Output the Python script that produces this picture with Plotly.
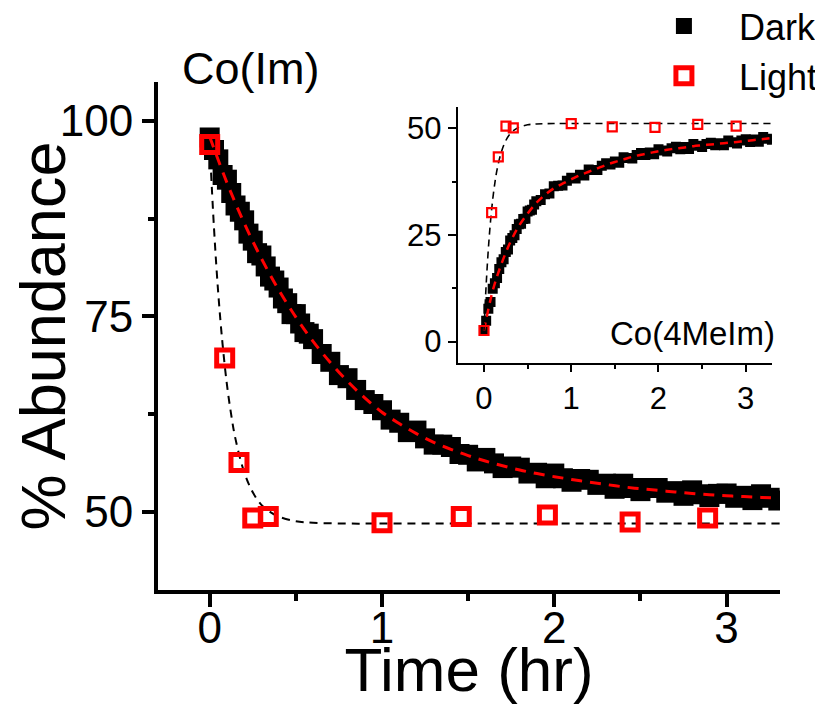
import plotly.graph_objects as go

# ---------------- Main panel: Co(Im) ----------------
dark_time = [0.0, 0.025, 0.05, 0.075, 0.1, 0.125, 0.15, 0.175, 0.2, 0.225, 0.25, 0.275, 0.3,
             0.325, 0.35, 0.375, 0.4, 0.425, 0.45, 0.475, 0.5, 0.525, 0.55, 0.575, 0.6,
             0.65, 0.7, 0.75, 0.8, 0.85, 0.9, 0.95, 1.0, 1.05, 1.1, 1.15, 1.2, 1.25, 1.3,
             1.35, 1.4, 1.45, 1.5, 1.55, 1.6, 1.65, 1.7, 1.75, 1.8, 1.85, 1.9, 1.95, 2.0,
             2.05, 2.1, 2.15, 2.2, 2.25, 2.3, 2.35, 2.4, 2.45, 2.5, 2.55, 2.6, 2.65, 2.7,
             2.75, 2.8, 2.85, 2.9, 2.95, 3.0, 3.05, 3.1, 3.15, 3.2, 3.25, 3.3]
dark_main = [97.9, 96.3, 95.1, 93.1, 92.5, 90.8, 89.2, 88.4, 87.3, 85.6, 84.7, 83.1, 82.8,
             81.4, 80.1, 79.6, 78.7, 77.3, 76.7, 75.3, 75.3, 74.1, 73.0, 72.8, 72.1,
             70.2, 69.2, 67.5, 67.1, 65.6, 64.3, 63.8, 63.0, 61.8, 61.4, 60.2, 60.4, 59.4, 58.6,
             58.6, 58.3, 57.4, 57.3, 56.45, 56.9, 56.2, 55.6, 55.8, 55.65, 54.9, 55.0, 54.3, 54.9,
             54.3, 53.85, 54.2, 54.1, 53.45, 53.6, 52.95, 53.6, 53.05, 52.65, 53.05, 53.05, 52.45, 52.65,
             52.05, 52.75, 52.25, 51.9, 52.3, 52.35, 51.8, 52.05, 51.5, 52.25, 51.8, 51.45]

fit_time = [0.0, 0.1, 0.2, 0.3, 0.4, 0.5, 0.6, 0.7, 0.8, 0.9, 1.0, 1.1, 1.2, 1.3, 1.4, 1.5, 1.6,
            1.7, 1.8, 1.9, 2.0, 2.1, 2.2, 2.3, 2.4, 2.5, 2.6, 2.7, 2.8, 2.9, 3.0, 3.1, 3.2, 3.3]
dark_main_fit = [98.0, 92.13, 86.96, 82.42, 78.42, 74.91, 71.81, 69.11, 66.70, 64.59, 62.75,
                 61.3, 60.0, 58.9, 58.0, 57.2, 56.5, 55.9, 55.35, 54.9, 54.5, 54.15, 53.8, 53.5,
                 53.2, 52.95, 52.75, 52.55, 52.35, 52.2, 52.05, 51.95, 51.85, 51.75]

light_time_main = [0.0, 0.087, 0.17, 0.25, 0.34, 1.0, 1.46, 1.96, 2.44, 2.89]
light_main = [97.0, 69.7, 56.3, 49.2, 49.4, 48.6, 49.4, 49.6, 48.7, 49.2]

light_fit_time = [0.0, 0.025, 0.05, 0.075, 0.1, 0.125, 0.15, 0.2, 0.25, 0.3, 0.35, 0.4, 0.5,
                  0.6, 0.8, 1.0, 1.5, 2.0, 2.5, 3.0, 3.31]
light_main_fit = [97.0, 86.3, 77.9, 71.4, 66.3, 62.4, 59.3, 55.1, 52.5, 50.9, 50.0, 49.4, 48.8,
                  48.6, 48.5, 48.5, 48.5, 48.5, 48.5, 48.5, 48.5]

# ---------------- Inset: Co(4MeIm) ----------------
dark_inset = [2.6, 4.9, 7.7, 9.3, 12.4, 13.7, 14.9, 17.0, 18.6, 19.3, 21.0, 21.6, 23.7,
              24.3, 24.9, 26.4, 27.5, 27.6, 28.7, 28.8, 30.5, 30.7, 30.9, 32.1, 32.9,
              33.2, 34.5, 34.7, 36.4, 36.5, 36.6, 37.7, 38.4, 38.2, 39.1, 38.9, 40.3, 40.2, 40.2,
              41.2, 41.8, 41.5, 42.2, 41.9, 43.2, 43.0, 42.9, 43.7, 44.2, 43.7, 44.3, 43.9, 45.1,
              44.8, 44.55, 45.3, 45.65, 45.1, 45.6, 45.15, 46.3, 45.9, 45.6, 46.3, 46.6, 46.0, 46.5,
              46.0, 47.1, 46.7, 46.4, 47.1, 47.4, 46.8, 47.35, 46.85, 47.95, 47.55, 47.3]
dark_inset_fit = [2.6, 11.9, 18.2, 23.2, 27.1, 30.0, 32.5, 34.4, 35.9, 37.0, 38.0, 39.0, 39.8,
                  40.6, 41.4, 42.1, 42.7, 43.3, 43.8, 44.2, 44.6, 44.95, 45.25, 45.5, 45.8, 46.0,
                  46.2, 46.4, 46.6, 46.8, 47.0, 47.25, 47.45, 47.7]

light_time_inset = [0.0, 0.088, 0.164, 0.252, 0.336, 1.0, 1.47, 1.96, 2.45, 2.89]
light_inset = [2.6, 30.2, 43.3, 50.5, 50.1, 51.1, 50.3, 50.2, 50.9, 50.5]

light_fit_time_inset = [0.0, 0.025, 0.05, 0.075, 0.1, 0.125, 0.15, 0.2, 0.25, 0.3, 0.35, 0.4,
                        0.5, 0.6, 0.8, 1.0, 2.0, 3.0, 3.3]
light_inset_fit = [2.6, 13.3, 21.7, 28.2, 33.3, 37.2, 40.3, 44.5, 47.1, 48.7, 49.6, 50.2,
                   50.8, 51.0, 51.1, 51.1, 51.1, 51.1, 51.1]

FONT = "Liberation Sans, Arial, sans-serif"
RED = "#ff0000"

fig = go.Figure()

# main panel
fig.add_trace(go.Scatter(x=dark_time, y=dark_main, mode="markers", name="Dark",
                         marker=dict(symbol="square", size=20, color="black",
                                     line=dict(width=0)),
                         xaxis="x", yaxis="y"))
fig.add_trace(go.Scatter(x=fit_time, y=dark_main_fit, mode="lines", showlegend=False,
                         line=dict(color=RED, width=3, dash="11px,8px", shape="spline"),
                         xaxis="x", yaxis="y"))
fig.add_trace(go.Scatter(x=light_fit_time, y=light_main_fit, mode="lines", showlegend=False,
                         line=dict(color="black", width=2, dash="8px,6px", shape="spline"),
                         xaxis="x", yaxis="y"))
fig.add_trace(go.Scatter(x=light_time_main, y=light_main, mode="markers", name="Light",
                         marker=dict(symbol="square-open", size=16, color=RED,
                                     line=dict(width=5, color=RED)),
                         xaxis="x", yaxis="y"))

# inset
fig.add_trace(go.Scatter(x=dark_time, y=dark_inset, mode="markers", showlegend=False,
                         marker=dict(symbol="square", size=10, color="black",
                                     line=dict(width=0)),
                         xaxis="x2", yaxis="y2"))
fig.add_trace(go.Scatter(x=fit_time, y=dark_inset_fit, mode="lines", showlegend=False,
                         line=dict(color=RED, width=2.5, dash="8px,6px", shape="spline"),
                         xaxis="x2", yaxis="y2"))
fig.add_trace(go.Scatter(x=light_fit_time_inset, y=light_inset_fit, mode="lines", showlegend=False,
                         line=dict(color="black", width=1.6, dash="7px,5px", shape="spline"),
                         xaxis="x2", yaxis="y2"))
fig.add_trace(go.Scatter(x=light_time_inset, y=light_inset, mode="markers", showlegend=False,
                         marker=dict(symbol="square-open", size=9, color=RED,
                                     line=dict(width=2.2, color=RED)),
                         xaxis="x2", yaxis="y2"))

axis_common = dict(showgrid=False, zeroline=False, showline=True, linecolor="black",
                   ticks="outside", tickcolor="black", mirror=False, automargin=False)

# The page body adds an 8px offset, so the figure is 8px smaller than the window.
fig.update_layout(
    width=815, height=696,
    margin=dict(l=150, r=43, t=74, b=114, autoexpand=False),
    paper_bgcolor="white", plot_bgcolor="white",
    font=dict(family=FONT, color="black"),
    showlegend=True,
    legend=dict(x=1.069, y=1.169,
                xanchor="right", yanchor="top",
                font=dict(family=FONT, size=36, color="black"),
                bgcolor="rgba(0,0,0,0)", itemwidth=100, tracegroupgap=0),
    xaxis=dict(**axis_common, domain=[0, 1], range=[-0.3, 3.31],
               tickvals=[0, 1, 2, 3], ticklen=13, tickwidth=3.5, linewidth=4,
               tickfont=dict(family=FONT, size=44), ticklabelstandoff=-17,
               minor=dict(tickvals=[0.5, 1.5, 2.5], ticklen=7, tickwidth=3.5, ticks="outside",
                          tickcolor="black"),
               title=dict(text="Time (hr)", font=dict(family=FONT, size=62), standoff=0)),
    yaxis=dict(**axis_common, domain=[0, 1], range=[40, 105],
               tickvals=[50, 75, 100], ticklen=12, tickwidth=3.5, linewidth=4,
               tickfont=dict(family=FONT, size=44),
               minor=dict(tickvals=[62.5, 87.5], ticklen=6, tickwidth=3.5, ticks="outside",
                          tickcolor="black"),
               title=dict(text="% Abundance", font=dict(family=FONT, size=63), standoff=0)),
    xaxis2=dict(**axis_common, domain=[0.482, 0.987], anchor="y2", range=[-0.3, 3.3],
                tickvals=[0, 1, 2, 3], ticklen=7, tickwidth=2, linewidth=2,
                tickfont=dict(family=FONT, size=31),
                minor=dict(tickvals=[0.5, 1.5, 2.5], ticklen=4, tickwidth=2, ticks="outside",
                           tickcolor="black")),
    yaxis2=dict(**axis_common, domain=[0.447, 0.951], anchor="x2", range=[-5, 55],
                tickvals=[0, 25, 50], ticklen=8, tickwidth=2, linewidth=2,
                tickfont=dict(family=FONT, size=31),
                minor=dict(tickvals=[12.5, 37.5], ticklen=4, tickwidth=2, ticks="outside",
                           tickcolor="black")),
    annotations=[
        dict(text="Co(Im)", xref="paper", yref="paper", x=0.148, y=1.026,
             xanchor="center", yanchor="middle", showarrow=False,
             font=dict(family=FONT, size=45, color="black")),
        dict(text="Co(4MeIm)", xref="x2 domain", yref="y2", x=1.0, y=2.0, xshift=5,
             xanchor="right", yanchor="middle", showarrow=False,
             font=dict(family=FONT, size=33, color="black")),
    ],
)

fig.write_html("out.html")
